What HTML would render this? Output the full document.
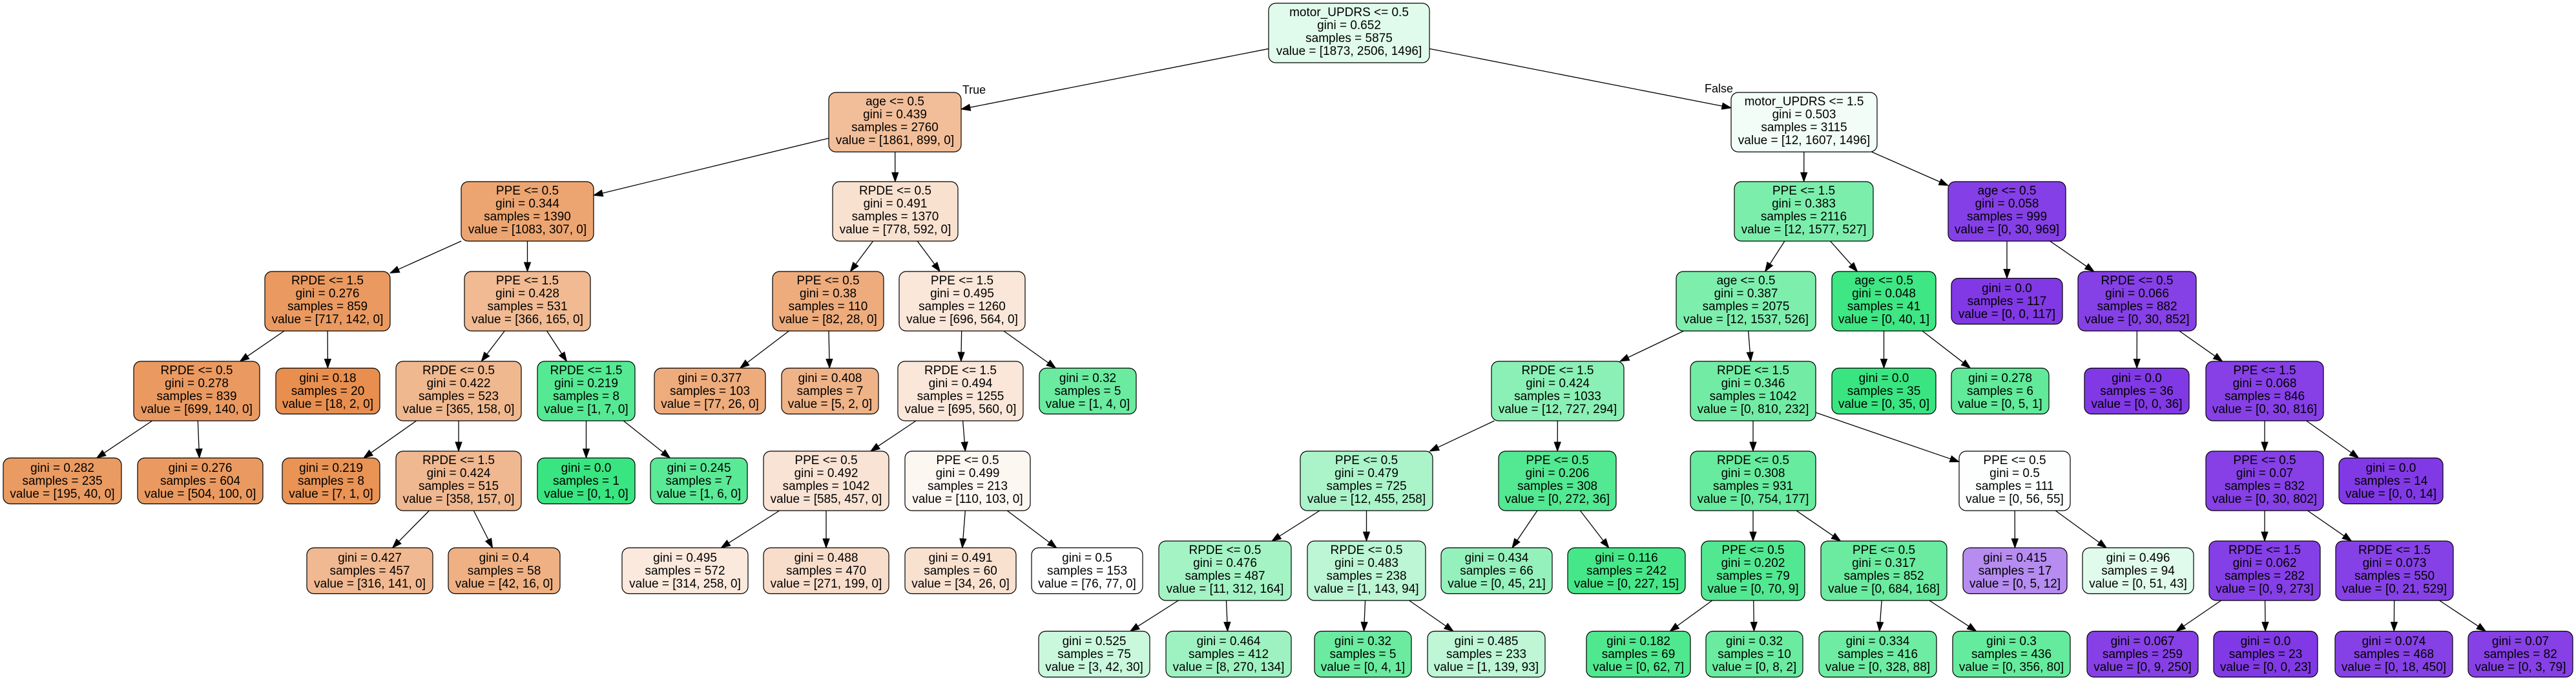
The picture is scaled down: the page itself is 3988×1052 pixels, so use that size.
<!DOCTYPE html>
<html><head><meta charset="utf-8"><style>
html,body{margin:0;padding:0;background:#fff;}
svg{display:block;}
text{font-family:"Liberation Sans",Arial,sans-serif;font-size:19px;fill:#000;text-anchor:middle;}
rect{stroke:#000;stroke-width:1.2;}
</style></head><body>
<svg id="s" width="3988" height="1052" viewBox="0 0 3988 1052" xmlns="http://www.w3.org/2000/svg">
<g id="edges"></g>
<text x="1508" y="145" style="font-size:18px">True</text>
<text x="2661" y="143" style="font-size:18px">False</text>

<rect id="n0" x="1964" y="5" width="249" height="92" rx="11" fill="#e0fbeb"/>
<text><tspan x="2088.5" y="25">motor_UPDRS &lt;= 0.5</tspan><tspan x="2088.5" y="45">gini = 0.652</tspan><tspan x="2088.5" y="65">samples = 5875</tspan><tspan x="2088.5" y="85">value = [1873, 2506, 1496]</tspan></text>

<rect id="n1" x="1283" y="143" width="205" height="92" rx="11" fill="#f2be99"/>
<text><tspan x="1385.5" y="163">age &lt;= 0.5</tspan><tspan x="1385.5" y="183">gini = 0.439</tspan><tspan x="1385.5" y="203">samples = 2760</tspan><tspan x="1385.5" y="223">value = [1861, 899, 0]</tspan></text>
<rect id="n2" x="2680" y="143" width="226" height="92" rx="11" fill="#f1fdf6"/>
<text><tspan x="2793" y="163">motor_UPDRS &lt;= 1.5</tspan><tspan x="2793" y="183">gini = 0.503</tspan><tspan x="2793" y="203">samples = 3115</tspan><tspan x="2793" y="223">value = [12, 1607, 1496]</tspan></text>

<rect id="n3" x="714" y="281" width="205" height="92" rx="11" fill="#eca571"/>
<text><tspan x="816.5" y="301">PPE &lt;= 0.5</tspan><tspan x="816.5" y="321">gini = 0.344</tspan><tspan x="816.5" y="341">samples = 1390</tspan><tspan x="816.5" y="361">value = [1083, 307, 0]</tspan></text>
<rect id="n4" x="1289" y="281" width="194" height="92" rx="11" fill="#f9e1d0"/>
<text><tspan x="1386" y="301">RPDE &lt;= 0.5</tspan><tspan x="1386" y="321">gini = 0.491</tspan><tspan x="1386" y="341">samples = 1370</tspan><tspan x="1386" y="361">value = [778, 592, 0]</tspan></text>
<rect id="n5" x="2685" y="281" width="215" height="92" rx="11" fill="#7ceeac"/>
<text><tspan x="2792.5" y="301">PPE &lt;= 1.5</tspan><tspan x="2792.5" y="321">gini = 0.383</tspan><tspan x="2792.5" y="341">samples = 2116</tspan><tspan x="2792.5" y="361">value = [12, 1577, 527]</tspan></text>
<rect id="n6" x="3016" y="281" width="182" height="92" rx="11" fill="#853fe6"/>
<text><tspan x="3107" y="301">age &lt;= 0.5</tspan><tspan x="3107" y="321">gini = 0.058</tspan><tspan x="3107" y="341">samples = 999</tspan><tspan x="3107" y="361">value = [0, 30, 969]</tspan></text>

<rect id="n7" x="410" y="420" width="194" height="92" rx="11" fill="#ea9a60"/>
<text><tspan x="507" y="440">RPDE &lt;= 1.5</tspan><tspan x="507" y="460">gini = 0.276</tspan><tspan x="507" y="480">samples = 859</tspan><tspan x="507" y="500">value = [717, 142, 0]</tspan></text>
<rect id="n8" x="719" y="420" width="195" height="92" rx="11" fill="#f1ba92"/>
<text><tspan x="816.5" y="440">PPE &lt;= 1.5</tspan><tspan x="816.5" y="460">gini = 0.428</tspan><tspan x="816.5" y="480">samples = 531</tspan><tspan x="816.5" y="500">value = [366, 165, 0]</tspan></text>
<rect id="n9" x="1196" y="420" width="172" height="92" rx="11" fill="#eeac7d"/>
<text><tspan x="1282" y="440">PPE &lt;= 0.5</tspan><tspan x="1282" y="460">gini = 0.38</tspan><tspan x="1282" y="480">samples = 110</tspan><tspan x="1282" y="500">value = [82, 28, 0]</tspan></text>
<rect id="n10" x="1392" y="420" width="195" height="92" rx="11" fill="#fae7d9"/>
<text><tspan x="1489.5" y="440">PPE &lt;= 1.5</tspan><tspan x="1489.5" y="460">gini = 0.495</tspan><tspan x="1489.5" y="480">samples = 1260</tspan><tspan x="1489.5" y="500">value = [696, 564, 0]</tspan></text>
<rect id="n11" x="2595" y="420" width="216" height="92" rx="11" fill="#7eeead"/>
<text><tspan x="2703" y="440">age &lt;= 0.5</tspan><tspan x="2703" y="460">gini = 0.387</tspan><tspan x="2703" y="480">samples = 2075</tspan><tspan x="2703" y="500">value = [12, 1537, 526]</tspan></text>
<rect id="n12" x="2836" y="420" width="161" height="92" rx="11" fill="#3ee684"/>
<text><tspan x="2916.5" y="440">age &lt;= 0.5</tspan><tspan x="2916.5" y="460">gini = 0.048</tspan><tspan x="2916.5" y="480">samples = 41</tspan><tspan x="2916.5" y="500">value = [0, 40, 1]</tspan></text>
<rect id="n13" x="3021" y="430.5" width="172" height="71" rx="11" fill="#8139e5"/>
<text><tspan x="3107" y="452">gini = 0.0</tspan><tspan x="3107" y="472">samples = 117</tspan><tspan x="3107" y="492">value = [0, 0, 117]</tspan></text>
<rect id="n14" x="3217" y="420" width="183" height="92" rx="11" fill="#8540e6"/>
<text><tspan x="3308.5" y="440">RPDE &lt;= 0.5</tspan><tspan x="3308.5" y="460">gini = 0.066</tspan><tspan x="3308.5" y="480">samples = 882</tspan><tspan x="3308.5" y="500">value = [0, 30, 852]</tspan></text>

<rect id="n15" x="207" y="559" width="195" height="92" rx="11" fill="#ea9a61"/>
<text><tspan x="304.5" y="579">RPDE &lt;= 0.5</tspan><tspan x="304.5" y="599">gini = 0.278</tspan><tspan x="304.5" y="619">samples = 839</tspan><tspan x="304.5" y="639">value = [699, 140, 0]</tspan></text>
<rect id="n16" x="427" y="569.5" width="161" height="71" rx="11" fill="#e88f4f"/>
<text><tspan x="507.5" y="591">gini = 0.18</tspan><tspan x="507.5" y="611">samples = 20</tspan><tspan x="507.5" y="631">value = [18, 2, 0]</tspan></text>
<rect id="n17" x="613" y="559" width="194" height="92" rx="11" fill="#f0b88f"/>
<text><tspan x="710" y="579">RPDE &lt;= 0.5</tspan><tspan x="710" y="599">gini = 0.422</tspan><tspan x="710" y="619">samples = 523</tspan><tspan x="710" y="639">value = [365, 158, 0]</tspan></text>
<rect id="n18" x="832" y="559" width="151" height="92" rx="11" fill="#55e993"/>
<text><tspan x="907.5" y="579">RPDE &lt;= 1.5</tspan><tspan x="907.5" y="599">gini = 0.219</tspan><tspan x="907.5" y="619">samples = 8</tspan><tspan x="907.5" y="639">value = [1, 7, 0]</tspan></text>
<rect id="n19" x="1013" y="569.5" width="172" height="71" rx="11" fill="#eeac7c"/>
<text><tspan x="1099" y="591">gini = 0.377</tspan><tspan x="1099" y="611">samples = 103</tspan><tspan x="1099" y="631">value = [77, 26, 0]</tspan></text>
<rect id="n20" x="1210" y="569.5" width="150" height="71" rx="11" fill="#efb388"/>
<text><tspan x="1285" y="591">gini = 0.408</tspan><tspan x="1285" y="611">samples = 7</tspan><tspan x="1285" y="631">value = [5, 2, 0]</tspan></text>
<rect id="n21" x="1390" y="559" width="194" height="92" rx="11" fill="#fae7d9"/>
<text><tspan x="1487" y="579">RPDE &lt;= 1.5</tspan><tspan x="1487" y="599">gini = 0.494</tspan><tspan x="1487" y="619">samples = 1255</tspan><tspan x="1487" y="639">value = [695, 560, 0]</tspan></text>
<rect id="n22" x="1609" y="569.5" width="150" height="71" rx="11" fill="#6aeba0"/>
<text><tspan x="1684" y="591">gini = 0.32</tspan><tspan x="1684" y="611">samples = 5</tspan><tspan x="1684" y="631">value = [1, 4, 0]</tspan></text>
<rect id="n23" x="2309" y="559" width="205" height="92" rx="11" fill="#8bf0b5"/>
<text><tspan x="2411.5" y="579">RPDE &lt;= 1.5</tspan><tspan x="2411.5" y="599">gini = 0.424</tspan><tspan x="2411.5" y="619">samples = 1033</tspan><tspan x="2411.5" y="639">value = [12, 727, 294]</tspan></text>
<rect id="n24" x="2617" y="559" width="194" height="92" rx="11" fill="#72eca5"/>
<text><tspan x="2714" y="579">RPDE &lt;= 1.5</tspan><tspan x="2714" y="599">gini = 0.346</tspan><tspan x="2714" y="619">samples = 1042</tspan><tspan x="2714" y="639">value = [0, 810, 232]</tspan></text>
<rect id="n25" x="2836" y="569.5" width="161" height="71" rx="11" fill="#39e581"/>
<text><tspan x="2916.5" y="591">gini = 0.0</tspan><tspan x="2916.5" y="611">samples = 35</tspan><tspan x="2916.5" y="631">value = [0, 35, 0]</tspan></text>
<rect id="n26" x="3021" y="569.5" width="151" height="71" rx="11" fill="#61ea9a"/>
<text><tspan x="3096.5" y="591">gini = 0.278</tspan><tspan x="3096.5" y="611">samples = 6</tspan><tspan x="3096.5" y="631">value = [0, 5, 1]</tspan></text>
<rect id="n27" x="3227" y="569.5" width="162" height="71" rx="11" fill="#8139e5"/>
<text><tspan x="3308" y="591">gini = 0.0</tspan><tspan x="3308" y="611">samples = 36</tspan><tspan x="3308" y="631">value = [0, 0, 36]</tspan></text>
<rect id="n28" x="3415" y="559" width="182" height="92" rx="11" fill="#8640e6"/>
<text><tspan x="3506" y="579">PPE &lt;= 1.5</tspan><tspan x="3506" y="599">gini = 0.068</tspan><tspan x="3506" y="619">samples = 846</tspan><tspan x="3506" y="639">value = [0, 30, 816]</tspan></text>

<rect id="n29" x="5" y="708.5" width="183" height="71" rx="11" fill="#ea9b62"/>
<text><tspan x="96.5" y="730">gini = 0.282</tspan><tspan x="96.5" y="750">samples = 235</tspan><tspan x="96.5" y="770">value = [195, 40, 0]</tspan></text>
<rect id="n30" x="213" y="708.5" width="194" height="71" rx="11" fill="#ea9a60"/>
<text><tspan x="310" y="730">gini = 0.276</tspan><tspan x="310" y="750">samples = 604</tspan><tspan x="310" y="770">value = [504, 100, 0]</tspan></text>
<rect id="n31" x="437" y="708.5" width="151" height="71" rx="11" fill="#e99355"/>
<text><tspan x="512.5" y="730">gini = 0.219</tspan><tspan x="512.5" y="750">samples = 8</tspan><tspan x="512.5" y="770">value = [7, 1, 0]</tspan></text>
<rect id="n32" x="613" y="698" width="194" height="92" rx="11" fill="#f0b890"/>
<text><tspan x="710" y="718">RPDE &lt;= 1.5</tspan><tspan x="710" y="738">gini = 0.424</tspan><tspan x="710" y="758">samples = 515</tspan><tspan x="710" y="778">value = [358, 157, 0]</tspan></text>
<rect id="n33" x="832" y="708.5" width="151" height="71" rx="11" fill="#39e581"/>
<text><tspan x="907.5" y="730">gini = 0.0</tspan><tspan x="907.5" y="750">samples = 1</tspan><tspan x="907.5" y="770">value = [0, 1, 0]</tspan></text>
<rect id="n34" x="1007" y="708.5" width="150" height="71" rx="11" fill="#5ae996"/>
<text><tspan x="1082" y="730">gini = 0.245</tspan><tspan x="1082" y="750">samples = 7</tspan><tspan x="1082" y="770">value = [1, 6, 0]</tspan></text>
<rect id="n35" x="1182" y="698" width="194" height="92" rx="11" fill="#f9e3d4"/>
<text><tspan x="1279" y="718">PPE &lt;= 0.5</tspan><tspan x="1279" y="738">gini = 0.492</tspan><tspan x="1279" y="758">samples = 1042</tspan><tspan x="1279" y="778">value = [585, 457, 0]</tspan></text>
<rect id="n36" x="1401" y="698" width="194" height="92" rx="11" fill="#fdf7f2"/>
<text><tspan x="1498" y="718">PPE &lt;= 0.5</tspan><tspan x="1498" y="738">gini = 0.499</tspan><tspan x="1498" y="758">samples = 213</tspan><tspan x="1498" y="778">value = [110, 103, 0]</tspan></text>
<rect id="n37" x="2013" y="698" width="205" height="92" rx="11" fill="#abf4ca"/>
<text><tspan x="2115.5" y="718">PPE &lt;= 0.5</tspan><tspan x="2115.5" y="738">gini = 0.479</tspan><tspan x="2115.5" y="758">samples = 725</tspan><tspan x="2115.5" y="778">value = [12, 455, 258]</tspan></text>
<rect id="n38" x="2320" y="698" width="182" height="92" rx="11" fill="#53e892"/>
<text><tspan x="2411" y="718">PPE &lt;= 0.5</tspan><tspan x="2411" y="738">gini = 0.206</tspan><tspan x="2411" y="758">samples = 308</tspan><tspan x="2411" y="778">value = [0, 272, 36]</tspan></text>
<rect id="n39" x="2617" y="698" width="194" height="92" rx="11" fill="#67eb9e"/>
<text><tspan x="2714" y="718">RPDE &lt;= 0.5</tspan><tspan x="2714" y="738">gini = 0.308</tspan><tspan x="2714" y="758">samples = 931</tspan><tspan x="2714" y="778">value = [0, 754, 177]</tspan></text>
<rect id="n40" x="3033" y="698" width="172" height="92" rx="11" fill="#fcfffd"/>
<text><tspan x="3119" y="718">PPE &lt;= 0.5</tspan><tspan x="3119" y="738">gini = 0.5</tspan><tspan x="3119" y="758">samples = 111</tspan><tspan x="3119" y="778">value = [0, 56, 55]</tspan></text>
<rect id="n41" x="3415" y="698" width="182" height="92" rx="11" fill="#8640e6"/>
<text><tspan x="3506" y="718">PPE &lt;= 0.5</tspan><tspan x="3506" y="738">gini = 0.07</tspan><tspan x="3506" y="758">samples = 832</tspan><tspan x="3506" y="778">value = [0, 30, 802]</tspan></text>
<rect id="n42" x="3621" y="708.5" width="161" height="71" rx="11" fill="#8139e5"/>
<text><tspan x="3701.5" y="730">gini = 0.0</tspan><tspan x="3701.5" y="750">samples = 14</tspan><tspan x="3701.5" y="770">value = [0, 0, 14]</tspan></text>

<rect id="n43" x="475" y="847.5" width="195" height="71" rx="11" fill="#f1b991"/>
<text><tspan x="572.5" y="869">gini = 0.427</tspan><tspan x="572.5" y="889">samples = 457</tspan><tspan x="572.5" y="909">value = [316, 141, 0]</tspan></text>
<rect id="n44" x="694" y="847.5" width="173" height="71" rx="11" fill="#efb184"/>
<text><tspan x="780.5" y="869">gini = 0.4</tspan><tspan x="780.5" y="889">samples = 58</tspan><tspan x="780.5" y="909">value = [42, 16, 0]</tspan></text>
<rect id="n45" x="963" y="847.5" width="195" height="71" rx="11" fill="#fae9dc"/>
<text><tspan x="1060.5" y="869">gini = 0.495</tspan><tspan x="1060.5" y="889">samples = 572</tspan><tspan x="1060.5" y="909">value = [314, 258, 0]</tspan></text>
<rect id="n46" x="1182" y="847.5" width="194" height="71" rx="11" fill="#f8ddca"/>
<text><tspan x="1279" y="869">gini = 0.488</tspan><tspan x="1279" y="889">samples = 470</tspan><tspan x="1279" y="909">value = [271, 199, 0]</tspan></text>
<rect id="n47" x="1401" y="847.5" width="172" height="71" rx="11" fill="#f9e1d0"/>
<text><tspan x="1487" y="869">gini = 0.491</tspan><tspan x="1487" y="889">samples = 60</tspan><tspan x="1487" y="909">value = [34, 26, 0]</tspan></text>
<rect id="n48" x="1597" y="847.5" width="172" height="71" rx="11" fill="#fefffe"/>
<text><tspan x="1683" y="869">gini = 0.5</tspan><tspan x="1683" y="889">samples = 153</tspan><tspan x="1683" y="909">value = [76, 77, 0]</tspan></text>
<rect id="n49" x="1794" y="837" width="205" height="92" rx="11" fill="#a4f3c5"/>
<text><tspan x="1896.5" y="857">RPDE &lt;= 0.5</tspan><tspan x="1896.5" y="877">gini = 0.476</tspan><tspan x="1896.5" y="897">samples = 487</tspan><tspan x="1896.5" y="917">value = [11, 312, 164]</tspan></text>
<rect id="n50" x="2024" y="837" width="183" height="92" rx="11" fill="#bcf6d4"/>
<text><tspan x="2115.5" y="857">RPDE &lt;= 0.5</tspan><tspan x="2115.5" y="877">gini = 0.483</tspan><tspan x="2115.5" y="897">samples = 238</tspan><tspan x="2115.5" y="917">value = [1, 143, 94]</tspan></text>
<rect id="n51" x="2231" y="847.5" width="172" height="71" rx="11" fill="#95f1bc"/>
<text><tspan x="2317" y="869">gini = 0.434</tspan><tspan x="2317" y="889">samples = 66</tspan><tspan x="2317" y="909">value = [0, 45, 21]</tspan></text>
<rect id="n52" x="2427" y="847.5" width="182" height="71" rx="11" fill="#46e789"/>
<text><tspan x="2518" y="869">gini = 0.116</tspan><tspan x="2518" y="889">samples = 242</tspan><tspan x="2518" y="909">value = [0, 227, 15]</tspan></text>
<rect id="n53" x="2634" y="837" width="160" height="92" rx="11" fill="#52e891"/>
<text><tspan x="2714" y="857">PPE &lt;= 0.5</tspan><tspan x="2714" y="877">gini = 0.202</tspan><tspan x="2714" y="897">samples = 79</tspan><tspan x="2714" y="917">value = [0, 70, 9]</tspan></text>
<rect id="n54" x="2819" y="837" width="195" height="92" rx="11" fill="#6aeba0"/>
<text><tspan x="2916.5" y="857">PPE &lt;= 0.5</tspan><tspan x="2916.5" y="877">gini = 0.317</tspan><tspan x="2916.5" y="897">samples = 852</tspan><tspan x="2916.5" y="917">value = [0, 684, 168]</tspan></text>
<rect id="n55" x="3039" y="847.5" width="161" height="71" rx="11" fill="#b68cf0"/>
<text><tspan x="3119.5" y="869">gini = 0.415</tspan><tspan x="3119.5" y="889">samples = 17</tspan><tspan x="3119.5" y="909">value = [0, 5, 12]</tspan></text>
<rect id="n56" x="3224" y="847.5" width="172" height="71" rx="11" fill="#e0fbeb"/>
<text><tspan x="3310" y="869">gini = 0.496</tspan><tspan x="3310" y="889">samples = 94</tspan><tspan x="3310" y="909">value = [0, 51, 43]</tspan></text>
<rect id="n57" x="3420" y="837" width="172" height="92" rx="11" fill="#853fe6"/>
<text><tspan x="3506" y="857">RPDE &lt;= 1.5</tspan><tspan x="3506" y="877">gini = 0.062</tspan><tspan x="3506" y="897">samples = 282</tspan><tspan x="3506" y="917">value = [0, 9, 273]</tspan></text>
<rect id="n58" x="3616" y="837" width="182" height="92" rx="11" fill="#8641e6"/>
<text><tspan x="3707" y="857">RPDE &lt;= 1.5</tspan><tspan x="3707" y="877">gini = 0.073</tspan><tspan x="3707" y="897">samples = 550</tspan><tspan x="3707" y="917">value = [0, 21, 529]</tspan></text>

<rect id="n59" x="1608" y="976.5" width="172" height="71" rx="11" fill="#caf8dd"/>
<text><tspan x="1694" y="998">gini = 0.525</tspan><tspan x="1694" y="1018">samples = 75</tspan><tspan x="1694" y="1038">value = [3, 42, 30]</tspan></text>
<rect id="n60" x="1805" y="976.5" width="194" height="71" rx="11" fill="#9ef2c1"/>
<text><tspan x="1902" y="998">gini = 0.464</tspan><tspan x="1902" y="1018">samples = 412</tspan><tspan x="1902" y="1038">value = [8, 270, 134]</tspan></text>
<rect id="n61" x="2035" y="976.5" width="150" height="71" rx="11" fill="#6aeba0"/>
<text><tspan x="2110" y="998">gini = 0.32</tspan><tspan x="2110" y="1018">samples = 5</tspan><tspan x="2110" y="1038">value = [0, 4, 1]</tspan></text>
<rect id="n62" x="2210" y="976.5" width="182" height="71" rx="11" fill="#bef6d6"/>
<text><tspan x="2301" y="998">gini = 0.485</tspan><tspan x="2301" y="1018">samples = 233</tspan><tspan x="2301" y="1038">value = [1, 139, 93]</tspan></text>
<rect id="n63" x="2456" y="976.5" width="161" height="71" rx="11" fill="#4fe88f"/>
<text><tspan x="2536.5" y="998">gini = 0.182</tspan><tspan x="2536.5" y="1018">samples = 69</tspan><tspan x="2536.5" y="1038">value = [0, 62, 7]</tspan></text>
<rect id="n64" x="2641" y="976.5" width="150" height="71" rx="11" fill="#6aeba0"/>
<text><tspan x="2716" y="998">gini = 0.32</tspan><tspan x="2716" y="1018">samples = 10</tspan><tspan x="2716" y="1038">value = [0, 8, 2]</tspan></text>
<rect id="n65" x="2816" y="976.5" width="182" height="71" rx="11" fill="#6eeca3"/>
<text><tspan x="2907" y="998">gini = 0.334</tspan><tspan x="2907" y="1018">samples = 416</tspan><tspan x="2907" y="1038">value = [0, 328, 88]</tspan></text>
<rect id="n66" x="3023" y="976.5" width="182" height="71" rx="11" fill="#65eb9d"/>
<text><tspan x="3114" y="998">gini = 0.3</tspan><tspan x="3114" y="1018">samples = 436</tspan><tspan x="3114" y="1038">value = [0, 356, 80]</tspan></text>
<rect id="n67" x="3231" y="976.5" width="172" height="71" rx="11" fill="#8640e6"/>
<text><tspan x="3317" y="998">gini = 0.067</tspan><tspan x="3317" y="1018">samples = 259</tspan><tspan x="3317" y="1038">value = [0, 9, 250]</tspan></text>
<rect id="n68" x="3427" y="976.5" width="161" height="71" rx="11" fill="#8139e5"/>
<text><tspan x="3507.5" y="998">gini = 0.0</tspan><tspan x="3507.5" y="1018">samples = 23</tspan><tspan x="3507.5" y="1038">value = [0, 0, 23]</tspan></text>
<rect id="n69" x="3615" y="976.5" width="182" height="71" rx="11" fill="#8641e6"/>
<text><tspan x="3706" y="998">gini = 0.074</tspan><tspan x="3706" y="1018">samples = 468</tspan><tspan x="3706" y="1038">value = [0, 18, 450]</tspan></text>
<rect id="n70" x="3821" y="976.5" width="162" height="71" rx="11" fill="#8640e6"/>
<text><tspan x="3902" y="998">gini = 0.07</tspan><tspan x="3902" y="1018">samples = 82</tspan><tspan x="3902" y="1038">value = [0, 3, 79]</tspan></text>
</svg>
<script>
(function(){
var E=[[0,1],[0,2],[1,3],[1,4],[2,5],[2,6],[3,7],[3,8],[4,9],[4,10],[5,11],[5,12],[6,13],[6,14],[7,15],[7,16],[8,17],[8,18],[9,19],[9,20],[10,21],[10,22],[11,23],[11,24],[12,25],[12,26],[14,27],[14,28],[15,29],[15,30],[17,31],[17,32],[18,33],[18,34],[21,35],[21,36],[23,37],[23,38],[24,39],[24,40],[28,41],[28,42],[32,43],[32,44],[35,45],[35,46],[36,47],[36,48],[37,49],[37,50],[38,51],[38,52],[39,53],[39,54],[40,55],[40,56],[41,57],[41,58],[49,59],[49,60],[50,61],[50,62],[53,63],[53,64],[54,65],[54,66],[57,67],[57,68],[58,69],[58,70]];
var NS="http://www.w3.org/2000/svg",g=document.getElementById("edges");
function R(i){var r=document.getElementById("n"+i);var x=+r.getAttribute("x"),y=+r.getAttribute("y"),w=+r.getAttribute("width"),h=+r.getAttribute("height");return{cx:x+w/2,cy:y+h/2,w:w,h:h};}
function clip(b,dx,dy){var tx=Math.abs(dx)>1e-9?(b.w/2)/Math.abs(dx):1e9,ty=Math.abs(dy)>1e-9?(b.h/2)/Math.abs(dy):1e9;return Math.min(tx,ty);}
E.forEach(function(e){var p=R(e[0]),c=R(e[1]);var dx=c.cx-p.cx,dy=c.cy-p.cy,L=Math.sqrt(dx*dx+dy*dy);dx/=L;dy/=L;
var t1=clip(p,dx,dy),t2=clip(c,dx,dy);
var sx=p.cx+dx*t1,sy=p.cy+dy*t1,ex=c.cx-dx*t2,ey=c.cy-dy*t2;var AL=14,AW=5;
var bx=ex-dx*AL,by=ey-dy*AL;
var l=document.createElementNS(NS,"line");l.setAttribute("x1",sx);l.setAttribute("y1",sy);l.setAttribute("x2",bx);l.setAttribute("y2",by);l.setAttribute("stroke","#000");l.setAttribute("stroke-width","1.3");g.appendChild(l);
var pg=document.createElementNS(NS,"polygon");var nx=-dy,ny=dx;
pg.setAttribute("points",ex+","+ey+" "+(bx+nx*AW)+","+(by+ny*AW)+" "+(bx-nx*AW)+","+(by-ny*AW));pg.setAttribute("fill","#000");pg.setAttribute("stroke","#000");pg.setAttribute("stroke-width","1");g.appendChild(pg);});
})();
</script>
</body></html>
